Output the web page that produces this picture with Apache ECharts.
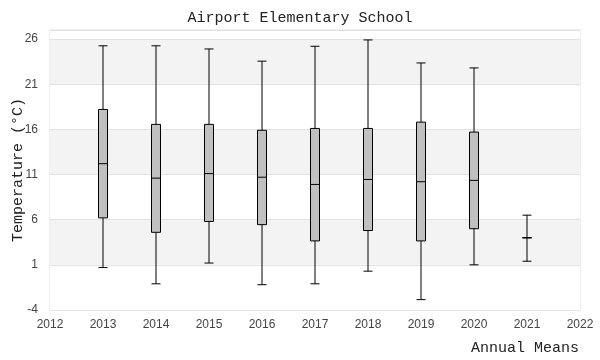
<!DOCTYPE html>
<html><head><meta charset="utf-8">
<script src="https://cdn.jsdelivr.net/npm/echarts@6/dist/echarts.min.js"></script>
<style>html,body{margin:0;padding:0;background:#fff}#c{width:600px;height:360px}</style>
</head><body><div id="c"></div>
<script>
const years = [2013, 2014, 2015, 2016, 2017, 2018, 2019, 2020, 2021];
const lowWhisker = [0.7, -1.1, 1.2, -1.2, -1.1, 0.3, -2.85, 1.0, 1.4];
const q1 = [6.2, 4.6, 5.8, 5.45, 3.65, 4.8, 3.65, 5.0, 4.0];
const median = [12.2, 10.6, 11.1, 10.7, 9.9, 10.45, 10.2, 10.35, 4.0];
const q3 = [18.2, 16.55, 16.55, 15.9, 16.1, 16.1, 16.8, 15.7, 4.0];
const highWhisker = [25.25, 25.25, 24.9, 23.55, 25.2, 25.9, 23.35, 22.8, 6.5];
const yTicks = [-4, 1, 6, 11, 16, 21, 26];

const boxData = years.map((y, i) => [y, lowWhisker[i], q1[i], median[i], q3[i], highWhisker[i]]);
const mono = '"Liberation Mono", "DejaVu Sans Mono", monospace';
const sans = '"Liberation Sans", Arial, sans-serif';

const chart = echarts.init(document.getElementById('c'), null, {renderer: 'canvas'});
chart.setOption({
  animation: false,
  backgroundColor: '#ffffff',
  title: [{
    text: 'Airport Elementary School',
    left: 'center', top: 6,
    textStyle: {fontFamily: mono, fontSize: 15, fontWeight: 'normal', color: '#222'}
  }, {
    text: 'Annual Means',
    right: 16, top: 336,
    textStyle: {fontFamily: mono, fontSize: 15, fontWeight: 'normal', color: '#222'}
  }],
  grid: {left: 50, right: 20, top: 30, bottom: 50, outerBoundsMode: 'none', containLabel: false,
    show: true, borderColor: '#dddddd', borderWidth: 1, backgroundColor: 'transparent'},
  xAxis: {
    type: 'value', min: 2012, max: 2022, interval: 1,
    axisLine: {show: false}, axisTick: {show: false},
    splitLine: {show: false},
    axisLabel: {fontFamily: sans, fontSize: 12, color: '#444', margin: 9, formatter: v => String(v)}
  },
  yAxis: {
    type: 'value', min: -4, max: 27, interval: 5,
    name: 'Temperature (°C)', nameLocation: 'middle', nameGap: 24, nameMoveOverlap: false,
    nameTextStyle: {fontFamily: mono, fontSize: 15, color: '#222'},
    axisLine: {show: false}, axisTick: {show: false},
    axisLabel: {fontFamily: sans, fontSize: 12, color: '#444', margin: 12, showMaxLabel: false,
      formatter: v => yTicks.includes(v) ? String(v) : ''},
    splitLine: {show: true, lineStyle: {color: '#e2e2e2', width: 1}},
    splitArea: {show: true, areaStyle: {color: ['#ffffff', '#f3f3f3']}}
  },
  series: [{
    type: 'boxplot',
    data: boxData,
    boxWidth: [9, 9],
    itemStyle: {color: '#c0c0c0', borderColor: '#000000', borderWidth: 1}
  }]
});
</script></body></html>
